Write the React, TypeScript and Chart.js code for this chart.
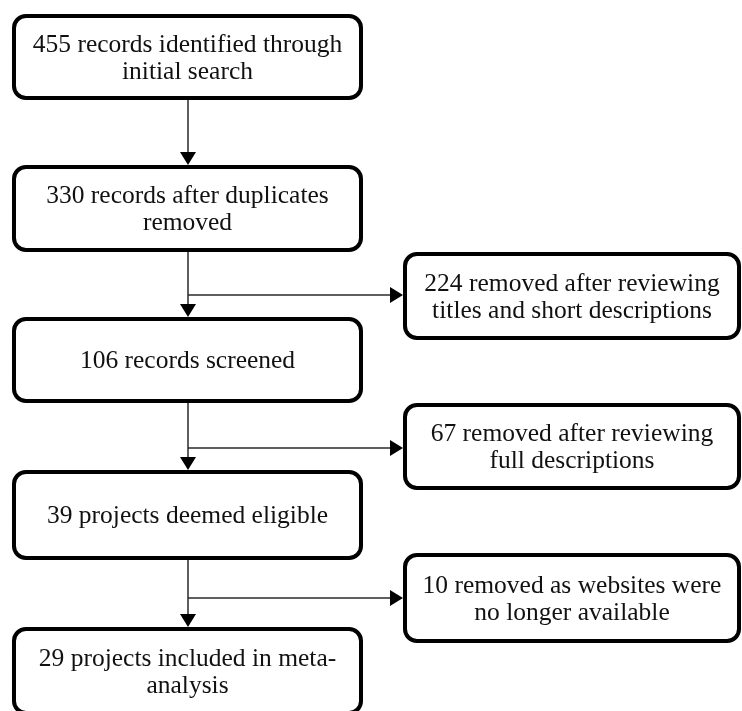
import React, { useEffect, useRef } from "react";
import { Chart, registerables } from "chart.js";

Chart.register(...registerables);

// ---- content (data) ----
const mainCounts = [455, 330, 106, 39, 29];
const mainLabels: string[][] = [
  ["455 records identified through", "initial search"],
  ["330 records after duplicates", "removed"],
  ["106 records screened"],
  ["39 projects deemed eligible"],
  ["29 projects included in meta-", "analysis"],
];
const removedCounts = [224, 67, 10];
const removedLabels: string[][] = [
  ["224 removed after reviewing", "titles and short descriptions"],
  ["67 removed after reviewing", "full descriptions"],
  ["10 removed as websites were", "no longer available"],
];

// ---- layout (positions in scale units) ----
const mainBoxX = [14, 361];
const mainBoxY: [number, number][] = [
  [16, 98],
  [167, 250],
  [319, 401],
  [472, 558],
  [629, 713],
];
const sideBoxX = [405, 739];
const sideBoxY: [number, number][] = [
  [254, 338],
  [405, 488],
  [555, 641],
];
const spineX = 188;
const branchY = [295, 448, 598];

const FONT = '25.5px "Liberation Serif", serif';

function roundRect(ctx: CanvasRenderingContext2D, x: number, y: number, w: number, h: number, r: number) {
  ctx.beginPath();
  ctx.moveTo(x + r, y);
  ctx.lineTo(x + w - r, y);
  ctx.arcTo(x + w, y, x + w, y + r, r);
  ctx.lineTo(x + w, y + h - r);
  ctx.arcTo(x + w, y + h, x + w - r, y + h, r);
  ctx.lineTo(x + r, y + h);
  ctx.arcTo(x, y + h, x, y + h - r, r);
  ctx.lineTo(x, y + r);
  ctx.arcTo(x, y, x + r, y, r);
  ctx.closePath();
}

const flowPlugin = {
  id: "flow",
  afterDatasetsDraw(chart: any) {
    const ctx: CanvasRenderingContext2D = chart.ctx;
    const xs = chart.scales.x;
    const ys = chart.scales.y;
    const px = (v: number) => xs.getPixelForValue(v);
    const py = (v: number) => ys.getPixelForValue(v);
    ctx.save();

    // connectors
    ctx.strokeStyle = "#2a2a2a";
    ctx.fillStyle = "#000";
    ctx.lineWidth = 1.5;
    const head = 13;
    const halfW = 8;
    for (let i = 0; i < mainBoxY.length - 1; i++) {
      const x = px(spineX);
      const y0 = py(mainBoxY[i][1]) + 2;
      const tip = py(mainBoxY[i + 1][0]) - 2;
      ctx.beginPath();
      ctx.moveTo(x, y0);
      ctx.lineTo(x, tip - head);
      ctx.stroke();
      ctx.beginPath();
      ctx.moveTo(x, tip);
      ctx.lineTo(x - halfW, tip - head);
      ctx.lineTo(x + halfW, tip - head);
      ctx.closePath();
      ctx.fill();
    }
    for (let i = 0; i < branchY.length; i++) {
      const y = py(branchY[i]);
      const x0 = px(spineX);
      const tipX = px(sideBoxX[0]) - 2;
      ctx.beginPath();
      ctx.moveTo(x0, y);
      ctx.lineTo(tipX - head, y);
      ctx.stroke();
      ctx.beginPath();
      ctx.moveTo(tipX, y);
      ctx.lineTo(tipX - head, y - halfW);
      ctx.lineTo(tipX - head, y + halfW);
      ctx.closePath();
      ctx.fill();
    }

    const drawBox = (x0: number, x1: number, y0: number, y1: number, lines: string[]) => {
      const X0 = px(x0), X1 = px(x1), Y0 = py(y0), Y1 = py(y1);
      roundRect(ctx, X0, Y0, X1 - X0, Y1 - Y0, 12);
      ctx.fillStyle = "#fff";
      ctx.fill();
      ctx.lineWidth = 4;
      ctx.strokeStyle = "#000";
      ctx.stroke();
      ctx.fillStyle = "#111";
      ctx.font = FONT;
      ctx.textAlign = "center";
      ctx.textBaseline = "alphabetic";
      const cx = (X0 + X1) / 2;
      const cy = (Y0 + Y1) / 2 + 8;
      const lh = 27;
      const start = cy - ((lines.length - 1) * lh) / 2;
      lines.forEach((l, k) => ctx.fillText(l, cx, start + k * lh));
    };

    mainLabels.forEach((lines, i) => drawBox(mainBoxX[0], mainBoxX[1], mainBoxY[i][0], mainBoxY[i][1], lines));
    removedLabels.forEach((lines, i) => drawBox(sideBoxX[0], sideBoxX[1], sideBoxY[i][0], sideBoxY[i][1], lines));
    ctx.restore();
  },
};

export default function App() {
  const ref = useRef<HTMLCanvasElement>(null);
  useEffect(() => {
    if (!ref.current) return;
    const chart = new Chart(ref.current, {
      type: "scatter",
      data: {
        datasets: [
          {
            label: "stages",
            data: mainCounts.map((c, i) => ({ x: (mainBoxX[0] + mainBoxX[1]) / 2, y: (mainBoxY[i][0] + mainBoxY[i][1]) / 2, n: c })) as any,
            pointRadius: 0,
          },
          {
            label: "removed",
            data: removedCounts.map((c, i) => ({ x: (sideBoxX[0] + sideBoxX[1]) / 2, y: (sideBoxY[i][0] + sideBoxY[i][1]) / 2, n: c })) as any,
            pointRadius: 0,
          },
        ],
      },
      options: {
        responsive: false,
        animation: false,
        devicePixelRatio: 1,
        layout: { padding: 0 },
        plugins: { legend: { display: false }, tooltip: { enabled: false } },
        scales: {
          x: { type: "linear", min: 0, max: 742, display: false },
          y: { type: "linear", min: 0, max: 711, reverse: true, display: false },
        },
      },
      plugins: [flowPlugin],
    });
    return () => chart.destroy();
  }, []);
  return (
    <div style={{ position: "absolute", left: 0, top: 0, width: 742, height: 711, background: "#fff" }}>
      <canvas ref={ref} width={742} height={711} style={{ display: "block" }} />
    </div>
  );
}
